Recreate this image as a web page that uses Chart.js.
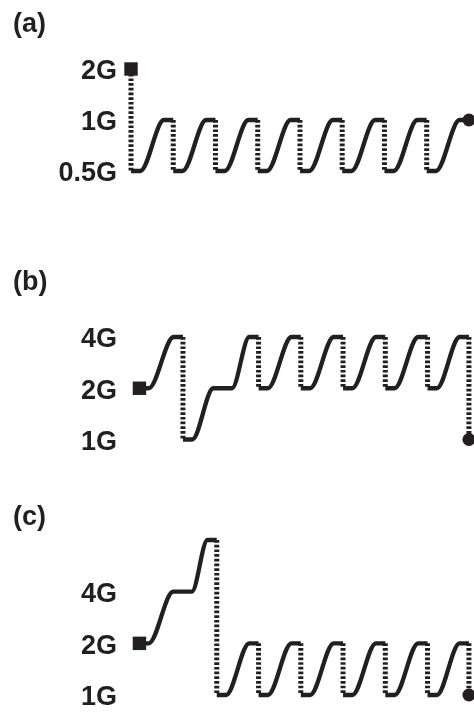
<!DOCTYPE html>
<html>
<head>
<meta charset="utf-8">
<script src="https://cdn.jsdelivr.net/npm/chart.js@4.4.1/dist/chart.umd.min.js"></script>
<style>
  body { margin: 0; background: #fff; }
  #wrap { position: relative; width: 474px; height: 714px; }
  #wrap canvas { position: absolute; left: 0; }
</style>
</head>
<body>
<div id="wrap">
  <canvas id="chartA" width="474" height="238" style="top:0"></canvas>
  <canvas id="chartB" width="474" height="238" style="top:238px"></canvas>
  <canvas id="chartC" width="474" height="238" style="top:476px"></canvas>
</div>
<script>
const ink = '#231f20';
const fontFamily = '"Liberation Sans", Arial, Helvetica, sans-serif';

// path nodes: same time twice = drop (dotted), otherwise a smooth rise (solid)
// (a)
const ticksA = [0.5, 1, 2];
const timesA = [0, 0, 1, 1, 2, 2, 3, 3, 4, 4, 5, 5, 6, 6, 7, 7, 8];
const levelsA = [2, 0.5, 1, 0.5, 1, 0.5, 1, 0.5, 1, 0.5, 1, 0.5, 1, 0.5, 1, 0.5, 1];

// (b)
const ticksB = [1, 2, 4];
const timesB = [0.2, 1.23, 1.23, 2.17, 3.02, 3.02, 4.02, 4.02, 5.02, 5.02, 6.02, 6.02, 7.02, 7.02, 8, 8];
const levelsB = [2, 4, 1, 2, 4, 2, 4, 2, 4, 2, 4, 2, 4, 2, 4, 1];

// (c)
const ticksC = [1, 2, 4];
const timesC = [0.2, 1.22, 2.03, 2.03, 3.02, 3.02, 4.02, 4.02, 5.02, 5.02, 6.02, 6.02, 7.02, 7.02, 8, 8];
const levelsC = [2, 4, 8, 1, 2, 1, 2, 1, 2, 1, 2, 1, 2, 1, 2, 1];

const SHOULDER = 0.22; // flat part at each end of a rise, in time units

function buildSeries(times, levels) {
    const solid = [];
    const dotted = [];
    for (let i = 1; i < times.length; i++) {
        const t0 = times[i - 1], t1 = times[i];
        const y0 = levels[i - 1], y1 = levels[i];
        if (t0 === t1) {
            dotted.push({ x: t0, y: y0 }, { x: t1, y: y1 }, { x: t1, y: null });
            solid.push({ x: t1, y: null });
        } else {
            solid.push({ x: t0, y: y0 }, { x: t0 + SHOULDER, y: y0 },
                       { x: t1 - SHOULDER, y: y1 }, { x: t1, y: y1 });
        }
    }
    return { solid, dotted };
}

function makeChart(id, label, times, levels, yTicks, yMin, yMax, pad) {
    const s = buildSeries(times, levels);
    const last = times.length - 1;
    return new Chart(document.getElementById(id), {
        type: 'line',
        data: {
            datasets: [
                {
                    data: [{ x: times[0], y: levels[0] }],
                    pointStyle: 'rect', pointRadius: 9.5, borderWidth: 0,
                    backgroundColor: ink, borderColor: ink, showLine: false, clip: false
                },
                {
                    data: [{ x: times[last], y: levels[last] }],
                    pointStyle: 'circle', pointRadius: 6.5, borderWidth: 0,
                    backgroundColor: ink, borderColor: ink, showLine: false, clip: false
                },
                {
                    data: s.solid, borderColor: ink, borderWidth: 4.3, pointRadius: 0,
                    cubicInterpolationMode: 'monotone', borderJoinStyle: 'round', clip: false
                },
                {
                    data: s.dotted, borderColor: ink, borderWidth: 5, borderDash: [2.7, 2],
                    pointRadius: 0, clip: false
                }
            ]
        },
        options: {
            responsive: false,
            animation: false,
            events: [],
            layout: { padding: pad, autoPadding: false },
            plugins: {
                legend: { display: false },
                tooltip: { enabled: false },
                title: {
                    display: true, text: label, align: 'start', color: ink, padding: 0,
                    font: { family: fontFamily, size: 27, weight: 'bold' }
                }
            },
            scales: {
                x: {
                    type: 'linear', min: 0, max: 8.12, display: false,
                    afterFit: sc => { sc.paddingLeft = 0; sc.paddingRight = 0; }
                },
                y: {
                    type: 'logarithmic', min: yMin, max: yMax,
                    grid: { display: false, drawTicks: false },
                    border: { display: false },
                    ticks: {
                        color: ink, padding: 14, labelOffset: 3,
                        font: { family: fontFamily, size: 27, weight: 'bold' },
                        callback: v => v + 'G'
                    },
                    afterBuildTicks: sc => { sc.ticks = yTicks.map(v => ({ value: v })); },
                    afterFit: sc => { sc.width = 118; sc.paddingTop = 0; sc.paddingBottom = 0; }
                }
            }
        }
    });
}

makeChart('chartA', '(a)', timesA, levelsA, ticksA, 0.35, 2.95,
    { top: 8, left: 13, right: 0, bottom: 40.76 });
makeChart('chartB', '(b)', timesB, levelsB, ticksB, 0.7, 6.67,
    { top: 28.8, left: 13, right: 0, bottom: 10.13 });
makeChart('chartC', '(c)', timesC, levelsC, ticksC, 0.8, 8.65,
    { top: 25.8, left: 13, right: 0, bottom: 2.36 });
</script>
</body>
</html>
